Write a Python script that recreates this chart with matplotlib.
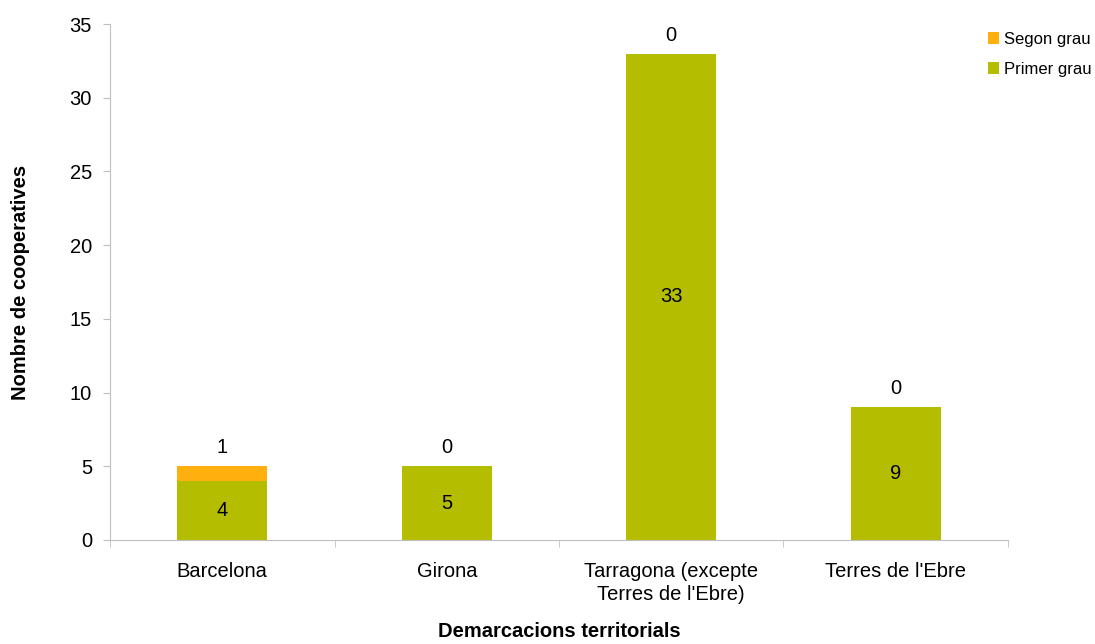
import matplotlib
matplotlib.use("Agg")
import matplotlib.pyplot as plt
import numpy as np

plt.rcParams['font.family'] = ['Liberation Sans', 'DejaVu Sans']

categories = ["Barcelona", "Girona", "Tarragona (excepte\nTerres de l'Ebre)", "Terres de l'Ebre"]
primer_grau = [4, 5, 33, 9]
segon_grau = [1, 0, 0, 0]

green = '#B5BD00'
orange = '#FFB00F'
axis_col = '#BFBFBF'
fs = 14.5

fig = plt.figure(figsize=(10.95, 6.44), dpi=100)
ax = fig.add_axes([0.1005, 0.1615, 0.82, 0.8012])

x = np.arange(len(categories))
b1 = ax.bar(x, primer_grau, width=0.4, color=green, label='Primer grau')
b2 = ax.bar(x, segon_grau, width=0.4, bottom=primer_grau, color=orange, label='Segon grau')

for i in range(len(categories)):
    ax.text(x[i], primer_grau[i] / 2, str(primer_grau[i]), ha='center', va='center', fontsize=fs)
    ax.text(x[i], primer_grau[i] + segon_grau[i] + 0.6, str(segon_grau[i]),
            ha='center', va='bottom', fontsize=fs)

ax.set_xlim(-0.5, len(categories) - 0.5)
ax.set_ylim(0, 35)
ax.set_yticks(np.arange(0, 36, 5))
ax.set_xticks(x)
ax.set_xticklabels(categories, fontsize=fs, linespacing=1.25)
ax.set_xticks(np.arange(-0.5, len(categories), 1), minor=True)
ax.tick_params(axis='x', which='major', length=0, pad=16)
ax.tick_params(axis='x', which='minor', length=5, color=axis_col)
ax.tick_params(axis='y', length=5, color=axis_col, labelsize=fs, pad=8)

for s in ['top', 'right']:
    ax.spines[s].set_visible(False)
for s in ['left', 'bottom']:
    ax.spines[s].set_color(axis_col)

ax.set_ylabel('Nombre de cooperatives', fontsize=fs, fontweight='bold', va='center')
ax.yaxis.set_label_coords(-0.1, 0.5)
ax.set_xlabel('Demarcacions territorials', fontsize=fs, fontweight='bold', va='center')
ax.xaxis.set_label_coords(0.5, -0.178)

handles = [b2, b1]
ax.legend(handles, ['Segon grau', 'Primer grau'], loc='upper left', bbox_to_anchor=(0.97, 0.998),
          frameon=False, fontsize=12, handlelength=0.7, handleheight=0.7, handletextpad=0.3,
          labelspacing=0.9, borderaxespad=0)

fig.savefig('out.png', dpi=100)
